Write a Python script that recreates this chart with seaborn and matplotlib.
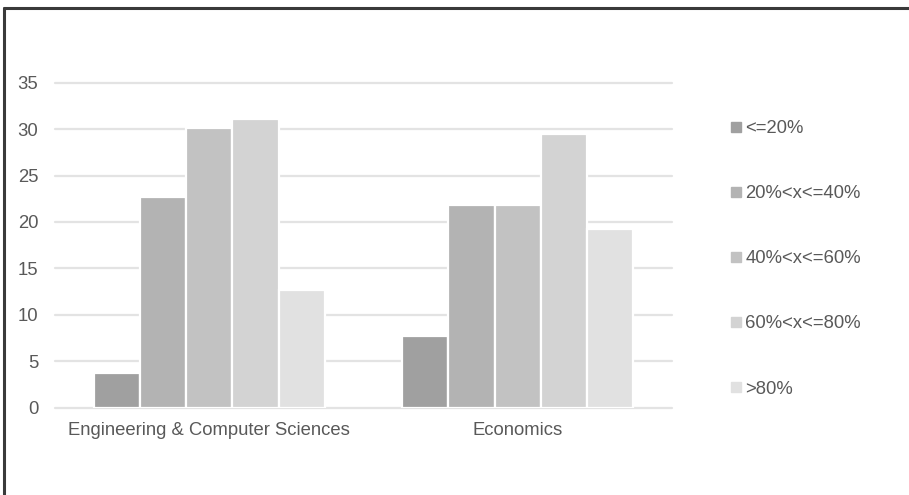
import matplotlib
matplotlib.use("Agg")
import matplotlib.pyplot as plt
from matplotlib.lines import Line2D
import seaborn as sns
import pandas as pd

fields = ["Engineering & Computer Sciences", "Economics"]
bands = ["<=20%", "20%<x<=40%", "40%<x<=60%", "60%<x<=80%", ">80%"]
engineering = [3.7, 22.7, 30.1, 31.1, 12.7]
economics = [7.7, 21.8, 21.8, 29.5, 19.2]
yticks = [0, 5, 10, 15, 20, 25, 30, 35]
band_colors = ["#a0a0a0", "#b3b3b3", "#c2c2c2", "#d3d3d3", "#e1e1e1"]

rows = []
for field, vals in zip(fields, [engineering, economics]):
    for band, v in zip(bands, vals):
        rows.append({"field": field, "band": band, "value": v})
df = pd.DataFrame(rows)

sns.set_theme(style="white")
plt.rcParams["font.family"] = ["Liberation Sans", "DejaVu Sans"]
text_color = "#595959"
fs = 13.3

fig = plt.figure(figsize=(9.09, 4.95), dpi=100)
W, H = 909, 495
ax = fig.add_axes([55 / W, (H - 407.7) / H, (672 - 55) / W, (407.7 - 82.7) / H])

sns.barplot(data=df, x="field", y="value", hue="band", order=fields,
            hue_order=bands, palette=band_colors, width=0.75,
            edgecolor="white", linewidth=1.6, saturation=1, ax=ax,
            legend=False, zorder=3)

ax.set_ylim(0, 35)
ax.set_yticks(yticks)
ax.set_xlim(-0.5, 1.5)
ax.yaxis.grid(True, color="#e3e3e3", linewidth=1.6, zorder=0)
for gl in ax.get_ygridlines():
    gl.set_clip_on(False)
ax.set_axisbelow(True)
for s in ax.spines.values():
    s.set_visible(False)
ax.set_xlabel("")
ax.set_ylabel("")
ax.tick_params(axis="both", length=0, labelsize=fs, labelcolor=text_color)
ax.tick_params(axis="y", pad=12)
ax.tick_params(axis="x", pad=10)

handles = [Line2D([0], [0], marker="s", linestyle="none", markersize=6.5,
                  markerfacecolor=c, markeredgecolor=c) for c in band_colors]
leg = fig.legend(handles, bands, loc="upper left",
                 bbox_to_anchor=(724 / W, 1 - 113 / H), frameon=False,
                 fontsize=fs, labelcolor=text_color, handlelength=0.55,
                 handletextpad=0.2, labelspacing=2.6, borderaxespad=0)

# frame lines along the top and left edges
fig.add_artist(Line2D([3.5 / W, 1], [1 - 8 / H, 1 - 8 / H], color="#3a3a3a",
                      linewidth=2.2, transform=fig.transFigure))
fig.add_artist(Line2D([4 / W, 4 / W], [0, 1 - 8 / H], color="#3a3a3a",
                      linewidth=2.2, transform=fig.transFigure))

fig.savefig("out.png", dpi=100, facecolor="white")
